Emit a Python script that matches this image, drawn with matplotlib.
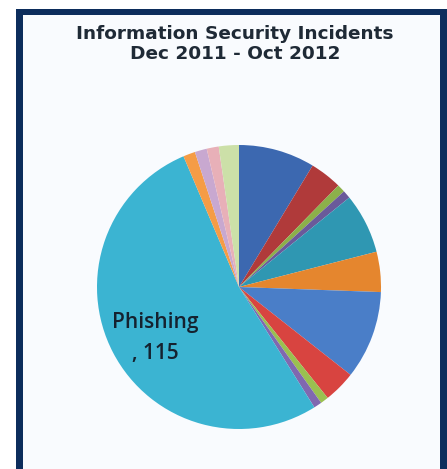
import matplotlib
matplotlib.use("Agg")
import matplotlib.pyplot as plt
from matplotlib.patches import Rectangle

categories = ["Category A", "Category B", "Category C", "Category D", "Category E",
              "Category F", "Category G", "Category H", "Category I", "Category J",
              "Phishing", "Category L", "Category M", "Category N", "Category O"]
values = [19, 8, 2, 2, 15, 10, 22, 8, 2, 2, 115, 3, 3, 3, 5]
colors = ["#3c68b0", "#b03a3a", "#8cb04a", "#6a5a9a", "#2f97b2", "#e5862e",
          "#4a7ec8", "#d84440", "#9ac050", "#8068b0", "#3bb4d2", "#f59c46",
          "#c8a8d0", "#e8b0b8", "#cce0a8"]
title = "Information Security Incidents\nDec 2011 - Oct 2012"
shown_label = "Phishing"

W, H = 447, 469
fig = plt.figure(figsize=(W / 100, H / 100), dpi=100)
fig.patch.set_facecolor("white")

def px_rect(x0, y0, x1, y1, color, z):
    fig.patches.append(Rectangle((x0 / W, 1 - y1 / H), (x1 - x0) / W, (y1 - y0) / H,
                                 transform=fig.transFigure, facecolor=color,
                                 edgecolor="none", zorder=z))

navy = "#0c2d5c"
px_rect(16, 9, 447, 469, navy, -2)
px_rect(23, 15, 440, 469, "#f9fbfe", -1)

cx, cy, r = 239, 287, 142
ax = fig.add_axes([(cx - r) / W, 1 - (cy + r) / H, 2 * r / W, 2 * r / H])
ax.set_zorder(5)
ax.set_facecolor("none")
wedges, _ = ax.pie(values, colors=colors, startangle=90, counterclock=False,
                   wedgeprops=dict(linewidth=0))
ax.set_xlim(-1, 1)
ax.set_ylim(-1, 1)
ax.set_aspect("auto")
ax.axis("off")

idx = categories.index(shown_label)
ax.text(-0.59, -0.36, f"{shown_label}\n, {values[idx]}", ha="center", va="center",
        fontsize=15, color="#15222f", family="Open Sans", fontweight="semibold",
        linespacing=1.6)

fig.text(235 / W, 1 - 44 / H, title, ha="center", va="center", fontsize=13.3,
         fontweight="bold", color="#1f2a36", family="DejaVu Sans", linespacing=1.18)

fig.savefig("out.png", dpi=100)
